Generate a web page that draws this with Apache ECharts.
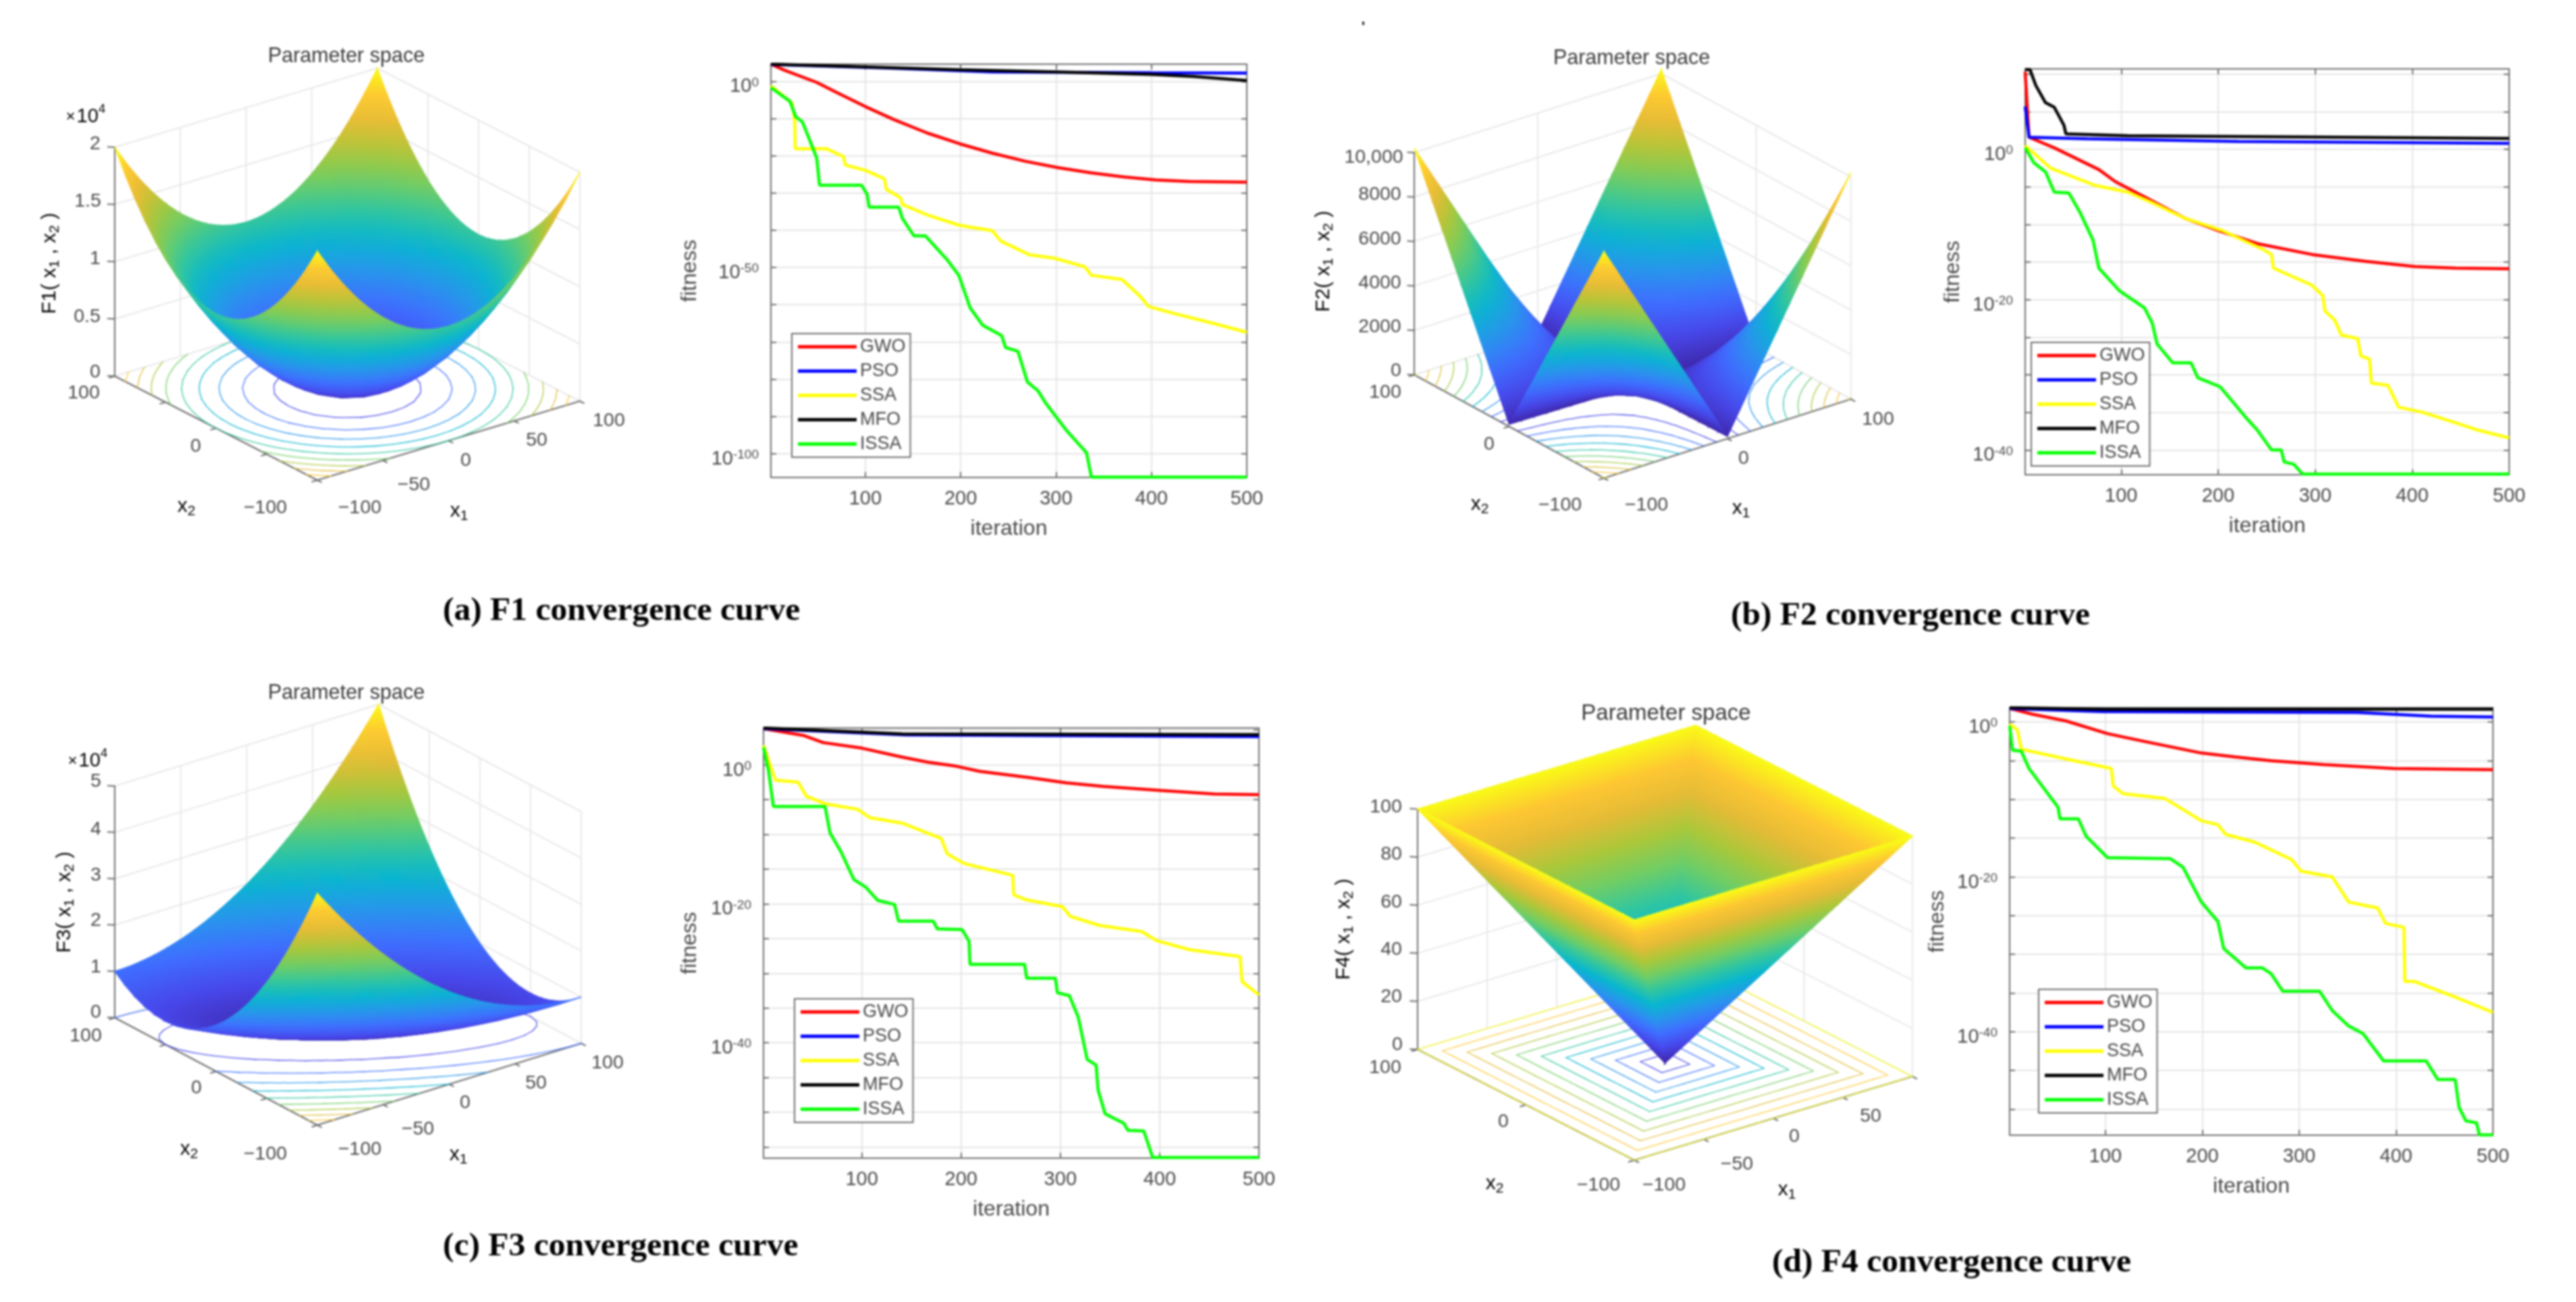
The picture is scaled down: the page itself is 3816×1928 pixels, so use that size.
<!DOCTYPE html>
<html>
<head>
<meta charset="utf-8">
<style>
html, body { margin: 0; background: #fff; }
#chart { width: 3816px; height: 1928px; filter: blur(1.4px); }
</style>
<script src="https://cdn.jsdelivr.net/npm/echarts@6/dist/echarts.min.js"></script>
</head>
<body>
<div id="chart"></div>
<script>
// Convergence curves: [iteration, log10(fitness)]
var F1_GWO = [[1,4.6],[15,3],[49,-0.3],[70,-3],[100,-6.8],[130,-10.3],[165,-13.9],[199,-16.8],[233,-19.3],[268,-21.5],[302,-23.2],[337,-24.6],[371,-25.7],[405,-26.5],[440,-26.9],[500,-27.1]];
var F1_PSO = [[1,4.5],[120,3.6],[233,2.5],[400,2.3],[500,2.2]];
var F1_SSA = [[1,-1.2],[23,-5.8],[26,-10.5],[26.5,-18.1],[59,-18.1],[77,-20.2],[79,-22.5],[100,-23.9],[120,-26.2],[122,-29],[137,-31.3],[139,-33.1],[165,-35.9],[199,-38.7],[233,-40.1],[242,-42.9],[272,-46.6],[298,-47.5],[330,-49.8],[337,-52.1],[369,-53.2],[388,-57.7],[397,-60.5],[423,-62.3],[466,-65.1],[500,-67.4]];
var F1_MFO = [[1,4.6],[121,3.7],[199,3.1],[300,2.5],[401,1.85],[444,1.3],[500,0.2]];
var F1_ISSA = [[1,-1.7],[21,-5.4],[27,-9.5],[34,-10.9],[42,-16],[49,-20.6],[52,-27.9],[96,-27.9],[102,-30.4],[104,-33.8],[135,-33.8],[139,-36.9],[151,-41.5],[163,-41.5],[186,-48],[198,-52.1],[210,-60.9],[223,-65.5],[243,-68.3],[247,-71.5],[260,-72.5],[270,-80.8],[281,-83.1],[289,-86.4],[311,-93.8],[332,-99.8],[337,-106.3],[500,-106.3]];

var F2_GWO = [[1,10.3],[5,1.6],[31,0.2],[77,-2.7],[94,-4.3],[128,-6.6],[166,-9.2],[200,-10.8],[242,-12.6],[297,-14],[352,-14.9],[403,-15.6],[445,-15.8],[500,-15.9]];
var F2_PSO = [[1,5.7],[5,1.6],[65,1.4],[221,1.05],[500,0.8]];
var F2_SSA = [[1,0.5],[27,-2.5],[73,-4.8],[107,-5.7],[132,-7.1],[166,-9.2],[204,-10.8],[246,-13.3],[255,-14],[257,-15.8],[297,-18.1],[308,-19.5],[310,-21.5],[320,-22.7],[327,-24.7],[344,-25.2],[347,-27.5],[356,-27.9],[358,-31.1],[375,-31.4],[386,-34.3],[411,-35],[445,-36.4],[466,-37.3],[500,-38.4]];
var F2_MFO = [[1,10.6],[6,10.6],[12,8.5],[22,6.2],[31,5.6],[41,3.2],[43,2.05],[107,1.8],[500,1.45]];
var F2_ISSA = [[1,0.2],[10,-1.8],[22,-3],[31,-5.7],[46,-5.8],[58,-8.5],[71,-12.1],[77,-15.8],[98,-18.8],[124,-21.1],[132,-23.1],[137,-25.9],[153,-28.4],[172,-28.4],[179,-30.4],[202,-31.6],[230,-35.9],[240,-37.3],[255,-40],[265,-40],[268,-41.6],[278,-41.9],[287,-43.2],[500,-43.2]];

var F3_GWO = [[1,5.2],[42,4.2],[61,3.2],[100,2.4],[141,1.1],[166,0.4],[195,-0.2],[219,-0.95],[269,-1.85],[306,-2.6],[343,-3.1],[401,-3.7],[455,-4.2],[500,-4.3]];
var F3_PSO = [[1,5.2],[145,4.3],[500,4.05]];
var F3_SSA = [[1,2.8],[13,-2.2],[36,-2.5],[44,-4.5],[63,-5.6],[96,-6.4],[108,-7.6],[141,-8.4],[180,-10.6],[186,-12.8],[203,-14.2],[252,-15.9],[253,-18.7],[265,-19.4],[302,-20.4],[310,-21.8],[339,-23.1],[382,-24],[397,-25.3],[430,-26.6],[481,-27.6],[483,-31.2],[498,-32.9],[500,-33.1]];
var F3_MFO = [[1,5.3],[141,4.45],[500,4.35]];
var F3_ISSA = [[1,2.5],[6,-0.8],[11,-6],[63,-6],[68,-9.8],[79,-12.5],[92,-16.5],[104,-17.6],[116,-19.5],[133,-20.1],[137,-22.5],[172,-22.5],[176,-23.6],[201,-23.7],[208,-25.4],[209,-28.7],[264,-28.7],[266,-30.7],[295,-30.7],[297,-32.8],[309,-33.2],[318,-36.3],[327,-42.4],[336,-43.2],[338,-46.8],[345,-50.2],[364,-51.6],[368,-52.6],[384,-52.7],[393,-56.5],[500,-56.5]];

var F4_GWO = [[1,1.75],[25,1],[59,0.15],[102,-1.5],[140,-2.5],[199,-4],[233,-4.5],[271,-5],[326,-5.5],[398,-6],[500,-6.15]];
var F4_PSO = [[1,1.75],[97,1.35],[360,1.25],[436,0.75],[500,0.65]];
var F4_SSA = [[1,-0.25],[9,-1],[13,-3.5],[59,-4.75],[106,-6],[108,-8.25],[118,-9.25],[161,-9.85],[199,-12.75],[216,-13.25],[224,-14.5],[254,-15.5],[292,-17.75],[302,-19.25],[334,-20],[351,-23.25],[381,-24],[389,-26],[408,-26.5],[409,-33.5],[419,-33.5],[461,-35.5],[500,-37.5]];
var F4_MFO = [[1,1.85],[102,1.65],[500,1.65]];
var F4_ISSA = [[1,-0.5],[4,-3.65],[13,-3.75],[21,-6],[51,-11],[53,-12.5],[72,-12.5],[80,-14.75],[102,-17.5],[167,-17.65],[180,-18.75],[199,-23.25],[216,-25.75],[222,-29.25],[245,-31.75],[262,-31.75],[271,-32.5],[283,-34.75],[321,-34.75],[334,-37.25],[351,-39.25],[366,-40.25],[387,-43.75],[431,-43.75],[443,-46.15],[461,-46.15],[465,-49.75],[472,-51.5],[483,-51.75],[486,-53.3],[500,-53.3]];

var ALGORITHMS = ['GWO', 'PSO', 'SSA', 'MFO', 'ISSA'];
var ITERATION_TICKS = [100, 200, 300, 400, 500];

var F1_Y_TICKS = [0, -10, -20, -30, -40, -50, -60, -70, -80, -90, -100];
var F2_Y_TICKS = [10, 5, 0, -5, -10, -15, -20, -25, -30, -35, -40];
var F3_Y_TICKS = [5, 0, -5, -10, -15, -20, -25, -30, -35, -40, -45, -50, -55];
var F4_Y_TICKS = [0, -5, -10, -15, -20, -25, -30, -35, -40, -45, -50];
var F1_Y_LABELS = [0, -50, -100];
var F2_Y_LABELS = [0, -20, -40];
var F3_Y_LABELS = [0, -20, -40];
var F4_Y_LABELS = [0, -20, -40];

// Surface heights on a 10-unit mesh
var MESH_AXIS = [-100, -90, -80, -70, -60, -50, -40, -30, -20, -10, 0, 10, 20, 30, 40, 50, 60, 70, 80, 90, 100];

// rows |x2| = 0..100, columns |x1| = 0..100
var F1_Z_QUADRANT = [
  [0,100,400,900,1600,2500,3600,4900,6400,8100,10000],
  [100,200,500,1000,1700,2600,3700,5000,6500,8200,10100],
  [400,500,800,1300,2000,2900,4000,5300,6800,8500,10400],
  [900,1000,1300,1800,2500,3400,4500,5800,7300,9000,10900],
  [1600,1700,2000,2500,3200,4100,5200,6500,8000,9700,11600],
  [2500,2600,2900,3400,4100,5000,6100,7400,8900,10600,12500],
  [3600,3700,4000,4500,5200,6100,7200,8500,10000,11700,13600],
  [4900,5000,5300,5800,6500,7400,8500,9800,11300,13000,14900],
  [6400,6500,6800,7300,8000,8900,10000,11300,12800,14500,16400],
  [8100,8200,8500,9000,9700,10600,11700,13000,14500,16200,18100],
  [10000,10100,10400,10900,11600,12500,13600,14900,16400,18100,20000]
];
var F2_Z_QUADRANT = [
  [0,10,20,30,40,50,60,70,80,90,100],
  [10,120,230,340,450,560,670,780,890,1000,1110],
  [20,230,440,650,860,1070,1280,1490,1700,1910,2120],
  [30,340,650,960,1270,1580,1890,2200,2510,2820,3130],
  [40,450,860,1270,1680,2090,2500,2910,3320,3730,4140],
  [50,560,1070,1580,2090,2600,3110,3620,4130,4640,5150],
  [60,670,1280,1890,2500,3110,3720,4330,4940,5550,6160],
  [70,780,1490,2200,2910,3620,4330,5040,5750,6460,7170],
  [80,890,1700,2510,3320,4130,4940,5750,6560,7370,8180],
  [90,1000,1910,2820,3730,4640,5550,6460,7370,8280,9190],
  [100,1110,2120,3130,4140,5150,6160,7170,8180,9190,10200]
];
var F4_Z_QUADRANT = [
  [0,10,20,30,40,50,60,70,80,90,100],
  [10,10,20,30,40,50,60,70,80,90,100],
  [20,20,20,30,40,50,60,70,80,90,100],
  [30,30,30,30,40,50,60,70,80,90,100],
  [40,40,40,40,40,50,60,70,80,90,100],
  [50,50,50,50,50,50,60,70,80,90,100],
  [60,60,60,60,60,60,60,70,80,90,100],
  [70,70,70,70,70,70,70,70,80,90,100],
  [80,80,80,80,80,80,80,80,80,90,100],
  [90,90,90,90,90,90,90,90,90,90,100],
  [100,100,100,100,100,100,100,100,100,100,100]
];
// rows x1 = -100..0, columns x2 = -100..100, in hundreds; the other half turns through the centre
var F3_Z_HALF = [
  [500,442,388,338,292,250,212,178,148,122,100,82,68,58,52,50,52,58,68,82,100],
  [461,405,353,305,261,221,185,153,125,101,81,65,53,45,41,41,45,53,65,81,101],
  [424,370,320,274,232,194,160,130,104,82,64,50,40,34,32,34,40,50,64,82,104],
  [389,337,289,245,205,169,137,109,85,65,49,37,29,25,25,29,37,49,65,85,109],
  [356,306,260,218,180,146,116,90,68,50,36,26,20,18,20,26,36,50,68,90,116],
  [325,277,233,193,157,125,97,73,53,37,25,17,13,13,17,25,37,53,73,97,125],
  [296,250,208,170,136,106,80,58,40,26,16,10,8,10,16,26,40,58,80,106,136],
  [269,225,185,149,117,89,65,45,29,17,9,5,5,9,17,29,45,65,89,117,149],
  [244,202,164,130,100,74,52,34,20,10,4,2,4,10,20,34,52,74,100,130,164],
  [221,181,145,113,85,61,41,25,13,5,1,1,5,13,25,41,61,85,113,145,181],
  [200,162,128,98,72,50,32,18,8,2,0,2,8,18,32,50,72,98,128,162,200]
];

var F1_LEVELS = [2000, 4000, 6000, 8000, 10000, 12000, 14000, 16000, 18000];
var F2_LEVELS = [1000, 2000, 3000, 4000, 5000, 6000, 7000, 8000, 9000, 10000];
var F3_LEVELS = [5000, 10000, 15000, 20000, 25000, 30000, 35000, 40000, 45000];
var F4_LEVELS = [10, 20, 30, 40, 50, 60, 70, 80, 90, 100];

var F1_Z_TICKS = [0, 5000, 10000, 15000, 20000];
var F2_Z_TICKS = [0, 2000, 4000, 6000, 8000, 10000];
var F3_Z_TICKS = [0, 10000, 20000, 30000, 40000, 50000];
var F4_Z_TICKS = [0, 20, 40, 60, 80, 100];
var F1_X_TICKS = [-100, -50, 0, 50, 100];
var F2_X_TICKS = [-100, 0, 100];
var F3_X_TICKS = [-100, -50, 0, 50, 100];
var F4_X1_TICKS = [-100, -50, 0, 50, 100];
var F4_X2_TICKS = [-100, 0, 100];

var CAPTIONS = ['(a) F1 convergence curve', '(b) F2 convergence curve', '(c) F3 convergence curve', '(d) F4 convergence curve'];

var COLORS = { GWO: '#ff0000', PSO: '#0000ff', SSA: '#ffff00', MFO: '#000000', ISSA: '#00ff00' };
var SANS = '"Liberation Sans", Arial, sans-serif';
var TEXT_COLOR = '#484848';

var PARULA = [
  [62, 38, 168], [71, 71, 235], [62, 111, 255], [39, 150, 235], [8, 181, 208], [49, 198, 159],
  [113, 205, 100], [171, 199, 57], [228, 187, 54], [253, 199, 50], [249, 251, 21]
];

function parula(t) {
  t = Math.max(0, Math.min(1, t)) * (PARULA.length - 1);
  var k = Math.min(Math.floor(t), PARULA.length - 2);
  var f = t - k;
  var c = [0, 1, 2].map(function (n) {
    return Math.round(PARULA[k][n] + (PARULA[k + 1][n] - PARULA[k][n]) * f);
  });
  return 'rgb(' + c.join(',') + ')';
}

//
// Line panels
//
var LINE_PANELS = [
  { box: [1142, 95, 705, 612], range: [-106.4, 4.6], ticks: F1_Y_TICKS, labels: F1_Y_LABELS, nameGap: 104, legend: [1173, 494],
    lines: [F1_GWO, F1_PSO, F1_SSA, F1_MFO, F1_ISSA] },
  { box: [3000, 102, 717, 601], range: [-43.3, 10.7], ticks: F2_Y_TICKS, labels: F2_Y_LABELS, nameGap: 91, legend: [3009, 507],
    lines: [F2_GWO, F2_PSO, F2_SSA, F2_MFO, F2_ISSA] },
  { box: [1131, 1078, 734, 637], range: [-56.6, 5.3], ticks: F3_Y_TICKS, labels: F3_Y_LABELS, nameGap: 93, legend: [1177, 1479],
    lines: [F3_GWO, F3_PSO, F3_SSA, F3_MFO, F3_ISSA] },
  { box: [2977, 1048, 716, 633], range: [-53.35, 1.85], ticks: F4_Y_TICKS, labels: F4_Y_LABELS, nameGap: 91, legend: [3020, 1465],
    lines: [F4_GWO, F4_PSO, F4_SSA, F4_MFO, F4_ISSA] }
];

var grids = [], xAxes = [], yAxes = [], seriesList = [], legends = [];
var axisLine = { onZero: false, lineStyle: { color: '#6a6a6a', width: 2 } };

LINE_PANELS.forEach(function (p, i) {
  grids.push({ left: p.box[0], top: p.box[1], width: p.box[2], height: p.box[3] });

  // Horizontal axes: bottom with labels, top only ticks
  xAxes.push({
    type: 'value', gridIndex: i, position: 'bottom', min: 1, max: 500,
    name: 'iteration', nameLocation: 'middle', nameGap: 60,
    nameTextStyle: { fontFamily: SANS, fontSize: 32, color: TEXT_COLOR },
    axisLine: axisLine,
    axisTick: { show: true, inside: true, length: 8, customValues: ITERATION_TICKS, lineStyle: { color: '#6a6a6a', width: 2 } },
    axisLabel: { customValues: ITERATION_TICKS, margin: 17, fontFamily: SANS, fontSize: 29, color: TEXT_COLOR },
    splitLine: { show: true, lineStyle: { color: '#e4e4e4', width: 2 } }
  });
  xAxes.push({
    type: 'value', gridIndex: i, position: 'top', min: 1, max: 500,
    axisLine: axisLine,
    axisTick: { show: true, inside: true, length: 8, customValues: ITERATION_TICKS, lineStyle: { color: '#6a6a6a', width: 2 } },
    axisLabel: { show: false },
    splitLine: { show: false }
  });

  // Vertical axes hold log10(fitness), labels written as powers of ten
  yAxes.push({
    type: 'value', gridIndex: i, position: 'left', min: p.range[0], max: p.range[1],
    name: 'fitness', nameLocation: 'middle', nameGap: p.nameGap,
    nameTextStyle: { fontFamily: SANS, fontSize: 32, color: TEXT_COLOR },
    axisLine: axisLine,
    axisTick: { show: true, inside: true, length: 8, customValues: p.ticks, lineStyle: { color: '#6a6a6a', width: 2 } },
    axisLabel: {
      customValues: p.labels, margin: 18, color: TEXT_COLOR,
      formatter: function (v) { return '{b|10}{s|' + v + '}'; },
      rich: {
        b: { fontFamily: SANS, fontSize: 29, lineHeight: 29, color: TEXT_COLOR, padding: [16, 0, 0, 0] },
        s: { fontFamily: SANS, fontSize: 19, lineHeight: 19, color: TEXT_COLOR, padding: [7, 0, 0, 0], verticalAlign: 'top' }
      }
    },
    splitLine: { show: true, lineStyle: { color: '#e4e4e4', width: 2 } }
  });
  yAxes.push({
    type: 'value', gridIndex: i, position: 'right', min: p.range[0], max: p.range[1],
    axisLine: axisLine,
    axisTick: { show: true, inside: true, length: 8, customValues: p.ticks, lineStyle: { color: '#6a6a6a', width: 2 } },
    axisLabel: { show: false },
    splitLine: { show: false }
  });

  ALGORITHMS.forEach(function (name, k) {
    seriesList.push({
      type: 'line', name: name, xAxisIndex: i * 2, yAxisIndex: i * 2, data: p.lines[k],
      symbol: 'none', animation: false, z: 5,
      itemStyle: { color: COLORS[name] },
      lineStyle: { color: COLORS[name], width: 4.5 }
    });
  });

  legends.push({
    orient: 'vertical', left: p.legend[0], top: p.legend[1], data: ALGORITHMS, selectedMode: false,
    icon: 'rect', itemWidth: 87, itemHeight: 5, itemGap: 9, padding: [6, 7, 6, 9],
    backgroundColor: '#fff', borderColor: '#6a6a6a', borderWidth: 2, z: 10,
    textStyle: { fontFamily: SANS, fontSize: 27, lineHeight: 26, color: TEXT_COLOR }
  });
});

//
// Surface panels, drawn on one hidden page-sized grid
//
var OVERLAY = LINE_PANELS.length;
grids.push({ left: 0, top: 0, width: 3816, height: 1928 });
xAxes.push({ type: 'value', gridIndex: OVERLAY, min: 0, max: 3816, show: false });
yAxes.push({ type: 'value', gridIndex: OVERLAY, min: 0, max: 1928, inverse: true, show: false });

function expandQuadrant(rows) {
  return MESH_AXIS.map(function (x2, j) {
    return MESH_AXIS.map(function (x1, i) {
      return rows[Math.abs(j - 10)][Math.abs(i - 10)];
    });
  });
}

// Full table by x2 row, x1 column from the half table
function expandHalf(rows, unit) {
  var full = rows.slice();
  for (var j = 9; j >= 0; j--) full.push(rows[j].slice().reverse());
  return MESH_AXIS.map(function (x2, j) {
    return MESH_AXIS.map(function (x1, i) {
      return full[i][j] * unit;
    });
  });
}

var SURFACES = [
  { z: expandQuadrant(F1_Z_QUADRANT), zMax: 20000, zTop: 20000, zPx: 339, left: [170, 557], front: [470, 711], right: [859, 594],
    levels: F1_LEVELS, zTicks: F1_Z_TICKS, x1Ticks: F1_X_TICKS, x2Ticks: F1_X_TICKS },
  { z: expandQuadrant(F2_Z_QUADRANT), zMax: 10200, zTop: 10000, zPx: 329, left: [2095, 555], front: [2376, 708], right: [2742, 591],
    levels: F2_LEVELS, zTicks: F2_Z_TICKS, x1Ticks: F2_X_TICKS, x2Ticks: F2_X_TICKS },
  { z: expandHalf(F3_Z_HALF, 100), zMax: 50000, zTop: 50000, zPx: 343, left: [170, 1507], front: [470, 1666], right: [861, 1545],
    levels: F3_LEVELS, zTicks: F3_Z_TICKS, x1Ticks: F3_X_TICKS, x2Ticks: F3_X_TICKS },
  { z: expandQuadrant(F4_Z_QUADRANT), zMax: 100, zTop: 100, zPx: 356, left: [2100, 1554], front: [2421, 1718], right: [2833, 1594],
    levels: F4_LEVELS, zTicks: F4_Z_TICKS, x1Ticks: F4_X1_TICKS, x2Ticks: F4_X2_TICKS }
];

function project(view, x1, x2, z) {
  var u = (x1 + 100) / 200, v = (x2 + 100) / 200;
  return [
    view.front[0] + u * (view.right[0] - view.front[0]) + v * (view.left[0] - view.front[0]),
    view.front[1] + u * (view.right[1] - view.front[1]) + v * (view.left[1] - view.front[1]) - z / view.zTop * view.zPx
  ];
}

// Two triangles per mesh cell, far cells first; each triangle is [x1,x2,z]x3
function meshTriangles(view) {
  var out = [];
  var vert = function (i, j) { return [MESH_AXIS[i], MESH_AXIS[j], view.z[j][i]]; };
  for (var i = MESH_AXIS.length - 2; i >= 0; i--) {
    for (var j = MESH_AXIS.length - 2; j >= 0; j--) {
      var a = vert(i, j), b = vert(i + 1, j), c = vert(i + 1, j + 1), d = vert(i, j + 1);
      if ((MESH_AXIS[i] + 5) * (MESH_AXIS[j] + 5) > 0) {
        out.push(a.concat(b, c));
        out.push(a.concat(d, c));
      } else {
        out.push(c.concat(b, d));
        out.push(a.concat(b, d));
      }
    }
  }
  return out;
}

// Contour segments on the floor, from the same triangles
function contourSegments(triangles, levels) {
  var out = [];
  triangles.forEach(function (t) {
    var pts = [[t[0], t[1], t[2]], [t[3], t[4], t[5]], [t[6], t[7], t[8]]];
    levels.forEach(function (level) {
      var l = level - 0.001, hit = [];
      for (var n = 0; n < 3; n++) {
        var p = pts[n], q = pts[(n + 1) % 3];
        if ((p[2] - l) * (q[2] - l) < 0) {
          var f = (l - p[2]) / (q[2] - p[2]);
          hit.push(p[0] + (q[0] - p[0]) * f, p[1] + (q[1] - p[1]) * f);
        }
      }
      if (hit.length === 4) out.push([hit[0], hit[1], 0, hit[2], hit[3], 0, level]);
    });
  });
  return out;
}

function triangleFill(a, b, c, za, zb, zc, zMax) {
  var det = (b[0] - a[0]) * (c[1] - a[1]) - (c[0] - a[0]) * (b[1] - a[1]);
  var lo = Math.min(za, zb, zc), hi = Math.max(za, zb, zc);
  if (Math.abs(det) < 1e-6 || hi - lo < 1e-9) return parula((lo + hi) / 2 / zMax);
  var gx = ((zb - za) * (c[1] - a[1]) - (zc - za) * (b[1] - a[1])) / det;
  var gy = ((b[0] - a[0]) * (zc - za) - (c[0] - a[0]) * (zb - za)) / det;
  var start = lo === za ? a : (lo === zb ? b : c);
  var k = (hi - lo) / (gx * gx + gy * gy);
  var stops = [0, 0.5, 1].map(function (s) {
    return { offset: s, color: parula((lo + (hi - lo) * s) / zMax) };
  });
  return new echarts.graphic.LinearGradient(start[0], start[1], start[0] + gx * k, start[1] + gy * k, stops, true);
}

function surfaceRenderer(view) {
  return function (params, api) {
    var a = api.coord(project(view, api.value(0), api.value(1), api.value(2)));
    var b = api.coord(project(view, api.value(3), api.value(4), api.value(5)));
    var c = api.coord(project(view, api.value(6), api.value(7), api.value(8)));
    var fill = triangleFill(a, b, c, api.value(2), api.value(5), api.value(8), view.zMax);
    return {
      type: 'polygon', silent: true,
      shape: { points: [a, b, c] },
      style: { fill: fill, stroke: fill, lineWidth: 1.3 }
    };
  };
}

function segmentRenderer(view, colorOf, width) {
  return function (params, api) {
    var a = api.coord(project(view, api.value(0), api.value(1), api.value(2)));
    var b = api.coord(project(view, api.value(3), api.value(4), api.value(5)));
    return {
      type: 'line', silent: true,
      shape: { x1: a[0], y1: a[1], x2: b[0], y2: b[1] },
      style: { stroke: colorOf(api.value(6)), lineWidth: width, lineCap: 'round' }
    };
  };
}

function customSeries(data, render, z) {
  return {
    type: 'custom', xAxisIndex: OVERLAY * 2, yAxisIndex: OVERLAY * 2, coordinateSystem: 'cartesian2d',
    data: data, renderItem: render, encode: { x: 0, y: 1 }, animation: false, progressive: 0, silent: true, clip: false, z: z,
    tooltip: { show: false }
  };
}

SURFACES.forEach(function (view) {
  var triangles = meshTriangles(view);

  // Back walls
  var walls = [];
  view.zTicks.forEach(function (z) {
    walls.push([-100, 100, z, 100, 100, z, 0]);
    walls.push([100, 100, z, 100, -100, z, 0]);
  });
  view.x1Ticks.forEach(function (x) { walls.push([x, 100, 0, x, 100, view.zTop, 0]); });
  view.x2Ticks.forEach(function (x) { walls.push([100, x, 0, 100, x, view.zTop, 0]); });

  // Axis lines and tick marks
  var axes = [
    [-100, 100, 0, -100, 100, view.zTop, 0],
    [-100, 100, 0, -100, -100, 0, 0],
    [-100, -100, 0, 100, -100, 0, 0]
  ];
  view.zTicks.forEach(function (z) { axes.push([-100, 100, z, -103, 103, z, 0]); });
  view.x1Ticks.forEach(function (x) { axes.push([x, -100, 0, x, -104, 0, 0]); });
  view.x2Ticks.forEach(function (x) { axes.push([-100, x, 0, -104, x, 0, 0]); });

  seriesList.push(customSeries(walls, segmentRenderer(view, function () { return '#e8e8e8'; }, 2), 1));
  seriesList.push(customSeries(axes, segmentRenderer(view, function () { return '#6a6a6a'; }, 2), 2));
  seriesList.push(customSeries(contourSegments(triangles, view.levels), segmentRenderer(view, function (level) {
    return parula(level / view.zMax);
  }, 1.3), 2));
  seriesList.push(customSeries(triangles, surfaceRenderer(view), 3));
});

//
// Texts of the surface panels: [text, x, y]
//
var SUB_RICH = {
  b: { fontFamily: SANS, fontSize: 30, lineHeight: 30, color: TEXT_COLOR },
  n: { fontFamily: SANS, fontSize: 30, lineHeight: 30, color: TEXT_COLOR },
  u: { fontFamily: SANS, fontSize: 21, lineHeight: 21, color: TEXT_COLOR, padding: [14, 0, 0, 0] },
  p: { fontFamily: SANS, fontSize: 29, lineHeight: 29, color: TEXT_COLOR, padding: [12, 0, 0, 0] },
  q: { fontFamily: SANS, fontSize: 19, lineHeight: 19, color: TEXT_COLOR, verticalAlign: 'top' },
  m: { fontFamily: SANS, fontSize: 24, lineHeight: 24, color: TEXT_COLOR, padding: [12, 2, 0, 0] }
};

var TICK_TEXTS = [
  ['2',141,213],['1.5',130,298],['1',141,383],['0.5',129,469],['0',141,551],
  ['100',124,582],['0',290,661],['\u2212100',393,752],
  ['100',902,623],['50',795,652],['0',690,682],['\u221250',613,718],['\u2212100',533,752],

  ['10,000',2035,233],['8000',2044,288],['6000',2044,354],['4000',2044,419],['2000',2044,484],['0',2068,549],
  ['100',2052,581],['0',2206,658],['\u2212100',2311,748],
  ['100',2782,621],['0',2583,679],['\u2212100',2439,748],

  ['5',142,1157],['4',142,1228],['3',142,1296],['2',142,1363],['1',142,1432],['0',142,1499],
  ['100',127,1534],['0',291,1611],['\u2212100',393,1709],
  ['100',900,1574],['50',794,1604],['0',689,1633],['\u221250',619,1672],['\u2212100',533,1702],

  ['100',2053,1195],['80',2061,1265],['60',2061,1336],['40',2061,1406],['20',2061,1476],['0',2070,1547],
  ['100',2052,1581],['0',2227,1661],['\u2212100',2368,1755],
  ['50',2771,1653],['0',2658,1683],['\u221250',2573,1724],['\u2212100',2465,1755]
];
var TITLE_TEXTS = [['Parameter space',513,84,30.5],['Parameter space',2417,87,30.5],['Parameter space',513,1027,30.5],['Parameter space',2468,1057,33]];
var RICH_TEXTS = [
  ['{b|x}{u|2}',276,750],['{b|x}{u|1}',680,757],
  ['{b|x}{u|2}',2192,747],['{b|x}{u|1}',2579,753],
  ['{b|x}{u|2}',280,1702],['{b|x}{u|1}',679,1710],
  ['{b|x}{u|2}',2214,1753],['{b|x}{u|1}',2647,1762],
  ['{m|\u00d7}{p|10}{q|4}',127,167],['{m|\u00d7}{p|10}{q|4}',130,1121]
];
var FUNCTION_TEXTS = [
  ['{n|F1( x}{u|1}{n| , x}{u|2}{n| )}',74,390],
  ['{n|F2( x}{u|1}{n| , x}{u|2}{n| )}',1961,387],
  ['{n|F3( x}{u|1}{n| , x}{u|2}{n| )}',96,1336],
  ['{n|F4( x}{u|1}{n| , x}{u|2}{n| )}',1991,1376]
];

var graphics = [];
TICK_TEXTS.forEach(function (t) {
  graphics.push({ type: 'text', x: t[1], y: t[2], z: 20, silent: true,
    style: { text: t[0], align: 'center', verticalAlign: 'middle', fill: TEXT_COLOR, font: '28.5px ' + SANS } });
});
TITLE_TEXTS.forEach(function (t) {
  graphics.push({ type: 'text', x: t[1], y: t[2], z: 20, silent: true,
    style: { text: t[0], align: 'center', verticalAlign: 'middle', fill: '#3a3a3a', font: t[3] + 'px ' + SANS } });
});
RICH_TEXTS.forEach(function (t) {
  graphics.push({ type: 'text', x: t[1], y: t[2], z: 20, silent: true,
    style: { text: t[0], rich: SUB_RICH, align: 'center', verticalAlign: 'middle' } });
});
FUNCTION_TEXTS.forEach(function (t) {
  graphics.push({ type: 'text', x: t[1], y: t[2], rotation: Math.PI / 2, z: 20, silent: true,
    style: { text: t[0], rich: SUB_RICH, align: 'center', verticalAlign: 'middle' } });
});
// the small stray mark above panel b
graphics.push({ type: 'rect', shape: { x: 2018, y: 32, width: 3, height: 5 }, style: { fill: '#222' }, silent: true });

var chart = echarts.init(document.getElementById('chart'));
chart.setOption({
  backgroundColor: '#fff',
  animation: false,
  title: [[656, 905], [2564, 912], [656, 1846], [2625, 1870]].map(function (pos, i) {
    return {
      text: CAPTIONS[i], left: pos[0], top: pos[1] - 25, padding: 0,
      textStyle: { fontFamily: '"Liberation Serif", "Times New Roman", serif', fontWeight: 'bold', fontSize: 49.5, color: '#000' }
    };
  }),
  legend: legends,
  grid: grids,
  xAxis: xAxes,
  yAxis: yAxes,
  series: seriesList,
  graphic: { elements: graphics }
});
</script>
</body>
</html>
